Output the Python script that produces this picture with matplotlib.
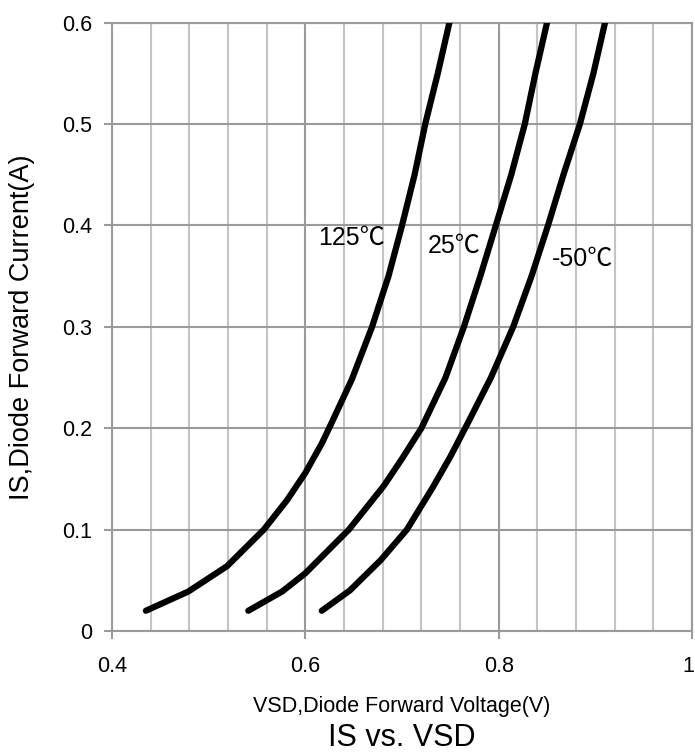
import numpy as np
import matplotlib.pyplot as plt
import matplotlib.transforms as mtransforms
from matplotlib.ticker import MultipleLocator

# IS vs VSD curves
v_125 = [0.435, 0.479, 0.519, 0.557, 0.581, 0.600, 0.617, 0.627, 0.648, 0.669, 0.686, 0.700, 0.713, 0.724, 0.737, 0.749]
i_125 = [0.020, 0.039, 0.064, 0.100, 0.129, 0.156, 0.185, 0.205, 0.248, 0.300, 0.350, 0.400, 0.450, 0.500, 0.550, 0.600]

v_25 = [0.541, 0.576, 0.600, 0.645, 0.681, 0.700, 0.720, 0.745, 0.764, 0.781, 0.797, 0.813, 0.827, 0.838, 0.850]
i_25 = [0.020, 0.039, 0.057, 0.100, 0.143, 0.170, 0.200, 0.250, 0.300, 0.350, 0.400, 0.450, 0.500, 0.550, 0.600]

v_m50 = [0.617, 0.646, 0.678, 0.705, 0.732, 0.750, 0.768, 0.792, 0.815, 0.834, 0.851, 0.867, 0.884, 0.898, 0.910]
i_m50 = [0.020, 0.040, 0.070, 0.100, 0.142, 0.172, 0.205, 0.250, 0.300, 0.350, 0.400, 0.450, 0.500, 0.550, 0.600]

labels = ['125℃', '25℃', '-50℃']
label_pos = [(0.613, 0.381), (0.727, 0.373), (0.855, 0.360)]

fam = ['Liberation Sans', 'Noto Sans CJK SC', 'DejaVu Sans']
plt.rcParams['font.family'] = fam

fig = plt.figure(figsize=(6.95, 7.56), dpi=100)
ax = fig.add_axes([0.1612, 0.1653, 0.8345, 0.8047])

for v, i in [(v_125, i_125), (v_25, i_25), (v_m50, i_m50)]:
    ax.plot(v, i, color='black', lw=4.5, solid_capstyle='round', solid_joinstyle='round', zorder=3)

for txt, (x, y) in zip(labels, label_pos):
    ax.text(x, y, txt, fontsize=18, ha='left', va='baseline', family=fam, zorder=4)

ax.set_xlim(0.4, 1.0)
ax.set_ylim(0, 0.6)
ax.xaxis.set_minor_locator(MultipleLocator(0.04))
ax.set_xticks([0.4, 0.6, 0.8, 1.0])
ax.set_xticklabels(['0.4', '0.6', '0.8', '1'])
ax.set_yticks([0, 0.1, 0.2, 0.3, 0.4, 0.5, 0.6])
ax.set_yticklabels(['0', '0.1', '0.2', '0.3', '0.4', '0.5', '0.6'])

ax.grid(which='major', color='#9a9a9a', lw=1.5)
ax.grid(which='minor', axis='x', color='#c4c4c4', lw=1.5)
ax.set_axisbelow(True)
for s in ax.spines.values():
    s.set_color('#9a9a9a')
    s.set_linewidth(1.5)
ax.tick_params(which='major', length=6, width=1.5, color='#9a9a9a', labelsize=15.5)
ax.tick_params(axis='x', pad=12)
ax.tick_params(axis='y', pad=8)
ax.tick_params(which='minor', length=0)

# keep the "1" at the right edge inside the picture
last = ax.get_xticklabels()[-1]
last.set_horizontalalignment('right')
last.set_transform(last.get_transform() + mtransforms.ScaledTranslation(0.02, 0, fig.dpi_scale_trans))

ax.set_xlabel('VSD,Diode Forward Voltage(V)', fontsize=15.5, labelpad=14)
ax.set_ylabel('IS,Diode Forward Current(A)', fontsize=19.5, labelpad=20)
fig.text(0.5785, 0.013, 'IS vs. VSD', fontsize=22, ha='center', va='baseline')

fig.savefig('out.png', dpi=100)
